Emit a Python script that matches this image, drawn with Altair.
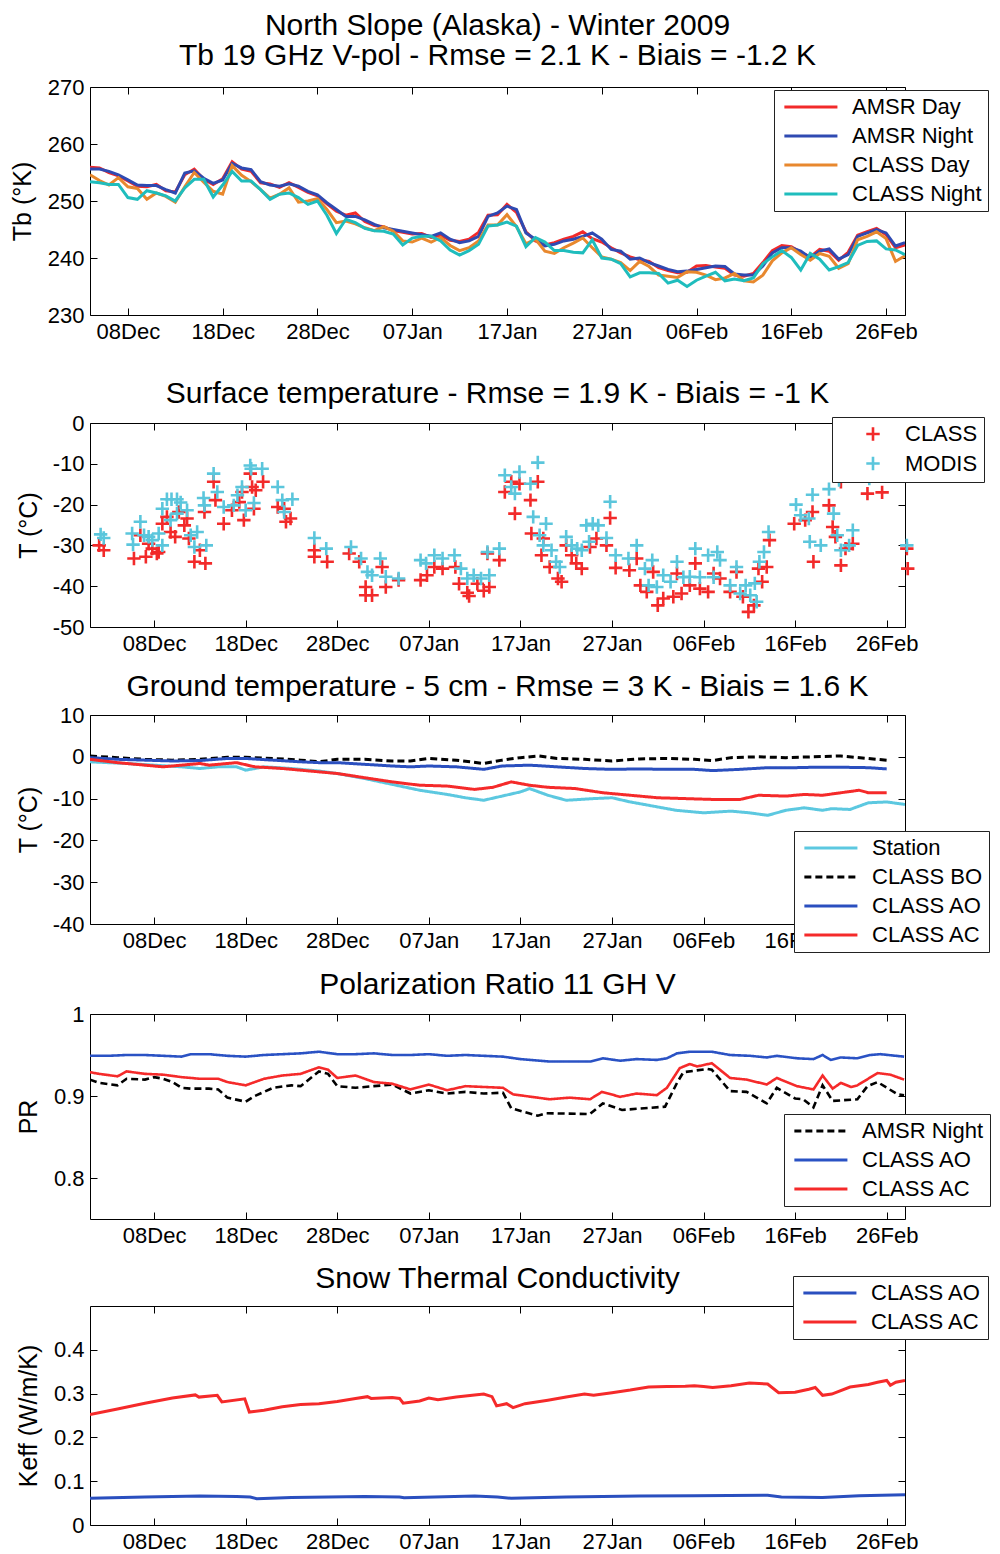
import altair as alt
import pandas as pd

FONT = "Liberation Sans"
W = 815
H1, H2, H3, H4, H5 = 228, 204, 209, 205, 219
START = pd.Timestamp("2008-12-01")


def iso(days):
    return [(START + pd.Timedelta(days=float(d))).strftime("%Y-%m-%dT%H:%M:%S") for d in days]


# ---------------- Panel 1 : Tb 19 GHz V-pol (daily, 04 Dec -> 28 Feb) ----------------
p1_days = list(range(3, 90))
amsr_day = [255.9, 255.8, 255.0, 254.4, 253.5, 252.6, 252.5, 252.9, 251.8, 251.6, 254.6, 255.6, 253.8, 252.9,
            253.9, 256.9, 255.6, 255.2, 253.2, 253.0, 252.4, 253.2, 252.4, 251.5, 250.9, 249.5, 248.2, 247.5,
            247.9, 246.4, 245.7, 245.5, 244.8, 244.5, 244.2, 244.3, 243.6, 244.0, 243.1, 242.9, 243.3, 244.5,
            247.5, 247.6, 249.4, 248.0, 244.6, 243.0, 242.3, 242.7, 243.3, 243.8, 244.6, 243.4, 242.8, 241.8,
            240.9, 240.2, 239.7,
            239.4, 238.3, 237.8, 237.4, 237.5, 238.6, 238.7, 238.4, 238.2, 237.0, 236.8, 237.3, 239.2, 241.3,
            242.2, 242.0, 241.0, 240.2, 241.5, 241.2, 239.6, 241.0, 244.0, 244.6, 245.2, 244.1, 241.8, 242.3]
amsr_night = [255.6, 255.6, 255.2, 254.6, 253.7, 252.8, 252.7, 252.7, 252.0, 251.4, 254.9, 255.3, 254.0, 253.1,
              253.7, 256.6, 255.8, 255.5, 253.4, 252.8, 252.6, 253.0, 252.6, 251.7, 251.1, 249.7, 248.5, 247.3,
              247.3, 246.7, 245.9, 245.3, 245.0, 244.7, 244.4, 244.1, 243.8, 244.4, 243.3, 242.7, 243.0, 243.8,
              247.3, 247.9, 249.1, 248.5, 244.4, 243.3, 242.1, 242.4, 243.0, 243.3, 243.8, 244.4, 243.3, 241.5,
              241.2, 239.8, 240.0,
              239.2, 238.6, 238.0, 237.6, 237.7, 238.0, 238.3, 238.6, 238.5, 237.2, 237.0, 237.0, 238.6, 240.9,
              241.8, 241.8, 241.2, 240.0, 241.2, 241.6, 239.8, 240.6, 243.8, 244.4, 245.0, 244.4, 242.1, 242.7]
class_day = [254.6, 253.6, 252.8, 254.1, 252.5, 252.2, 250.3, 251.4, 250.8, 249.8, 252.5, 255.0, 253.3, 251.7,
             251.2, 256.2, 254.5, 253.4, 252.0, 250.5, 251.2, 252.3, 249.8, 250.0, 250.4, 248.5, 246.2, 246.5,
             246.0, 245.3, 244.8, 245.5, 244.7, 243.0, 242.8, 243.5, 242.8, 243.6, 242.2, 241.3, 241.8, 243.0,
             245.8, 245.8, 247.6, 245.5, 242.5, 243.3, 241.2, 240.8, 241.8, 242.6, 243.5, 241.8, 240.2, 239.8,
             239.2, 237.8, 239.4,
             238.5, 237.0, 236.8, 236.6, 237.6, 237.5, 237.0, 236.2, 236.5, 237.3, 236.0, 235.8, 237.0, 239.5,
             240.9, 241.8, 240.6, 239.6, 240.8, 240.3, 238.2, 239.0, 243.2, 243.8, 244.6, 243.4, 239.4, 240.4]
class_night = [253.4, 253.2, 252.9, 252.9, 250.6, 250.3, 251.8, 251.4, 250.9, 250.0, 252.3, 253.8, 253.8, 250.7,
               252.8, 255.2, 253.5, 253.5, 252.0, 250.3, 251.2, 251.4, 250.6, 249.4, 250.0, 247.5, 244.3, 246.8,
               246.2, 245.2, 244.8, 244.7, 244.2, 242.3, 243.5, 243.8, 243.8, 243.0, 241.4, 240.5, 241.3, 242.4,
               245.6, 245.8, 246.3, 245.6, 242.0, 243.6, 242.8, 241.3, 241.3, 241.0, 240.9, 243.2, 240.0, 239.8,
               239.0, 236.7, 237.4,
               237.4, 237.3, 235.6, 236.1, 235.0, 236.1, 236.8, 237.5, 236.0, 236.3, 236.0, 236.5, 239.0, 240.2,
               241.3, 240.1, 237.9, 240.8, 239.8, 237.9, 238.5, 239.2, 242.2, 242.9, 243.0, 241.6, 241.4, 240.6]
p1_series = ["AMSR Day", "AMSR Night", "CLASS Day", "CLASS Night"]
p1_colors = ["#f22a2a", "#2f4ab2", "#e8882e", "#1fbdbd"]

# ---------------- Panel 2 : surface temperature (scatter) ----------------
ts_class_day = [1, 1.5, 4.8, 6.1, 5.5, 6.4, 6.8, 7.5, 7.3, 7.9, 8.4, 8.8, 9.3, 9.7, 10.3, 10.6, 10.8, 11.4, 12, 12.6,
                12.5, 13.5, 13.7, 14.6, 15.5, 16.3, 16.6, 16.8, 17.5, 17.7, 17.9, 18.1, 18.9, 20.5, 21.2, 21.4, 21.9,
                24.5, 24.5, 25.9, 28.3, 29.4, 30.1, 30.1, 30.8, 31.9, 32.3, 33.7, 36.1, 36.8, 37.6, 38.5, 39.9, 40.3,
                41.2, 41.4, 42.3, 43, 43.4, 43.6, 44.7, 45.3, 46, 46.4, 46.9, 48.1, 48.9, 48.2, 49.5, 49.3, 50.2, 51.1,
                51.5, 52, 52.6, 53.1, 53.7, 54.6, 55.3, 56.4, 56.8, 57.4, 58.9, 59.7, 60.1, 60.8, 61.5, 62, 62.6,
                63.7, 64.6, 64.1, 65.5, 66.1, 66.6, 67.5, 68.1, 68.8, 69.9, 70.6, 71.3, 71.9, 72.5, 73, 73.4, 73.9,
                74.2, 76.9, 78.1, 78.9, 79, 80.7, 81.1, 81.4, 82, 83.3, 82.5, 84.9, 82, 86.5, 89.3, 89.2]
ts_class_val = [-30, -31.2, -33.2, -32.8, -27.5, -29.6, -30.8, -31.6, -32, -24.7, -23, -26.7, -27.9, -21.8, -25.1,
                -23.4, -28.3, -34, -31.2, -34.4, -21.8, -14.4, -18.9, -24.7, -21.4, -19.4, -16.9, -23.8, -12.4,
                -15.7, -21, -16.5, -14.4, -20.6, -21, -24.2, -23.4, -31.2, -32.8, -34, -32, -34, -40.2, -42.2,
                -42.2, -35.3, -40.2, -38.5, -38.5, -37.3, -35.3, -35.7, -35.3, -39.4, -41.6, -42.4, -39.4, -41.1,
                -32, -40.2, -33.6, -16.9, -14.4, -22.2, -14.9, -18.9, -14.4, -27.1, -28.3, -32.4, -35.3, -38.1,
                -38.9, -30, -32.4, -34.4, -35.7, -30.4, -28.3, -30, -23.3, -35.5, -36.1, -33.2, -39.8, -41.4,
                -36.5, -44.7, -43, -42.6, -41.8, -36.9, -39.8, -34.4, -40.6, -41.4, -36.9, -38.1, -41.4, -36.5,
                -42.6, -46.3, -44.7, -35.7, -38.9, -35.3, -28.7, -24.7, -23.8, -21.8, -34, -20.2, -25.5, -27.9,
                -34.9, -29.6, -30.8, -17.3, -14.4, -17.0, -35.7, -30.8]
ts_modis_day = [1.16, 1.5, 4.6, 5.5, 4.7, 5.9, 6.4, 6.8, 7.5, 7.9, 7.9, 8.4, 8.9, 9.5, 9.9, 8.8, 9.5, 10.6, 11, 11.7,
                11.4, 12.7, 12.4, 12.5, 13.5, 13.9, 14.6, 15.7, 16.1, 16.6, 17, 17.5, 17.6, 17.9, 18.8, 20.5, 21,
                21.2, 22.1, 24.5, 25.8, 28.5, 29.6, 30.3, 30.8, 31.7, 32.3, 33.7, 36.1, 36.7, 37.6, 38.5, 39.8, 40.5,
                41.2, 41.9, 42.7, 43.4, 43.6, 44.7, 45.3, 46, 46.4, 46.9, 48.1, 48.9, 48.4, 49.8, 49.1, 49.5, 50.4,
                50.9, 51.3, 52, 52.6, 53.2, 53.7, 54.2, 54.9, 55.5, 54.5, 56.4, 56.8, 57.4, 58.8, 59.7, 60.6, 61.4,
                61, 61.9, 62.6, 63.4, 64.1, 64.8, 65.5, 66.1, 66.6, 67.5, 68.1, 68.5, 68.8, 69.9, 70.6, 71, 71.6,
                72.1, 72.6, 72.8, 73.1, 73.6, 74.1, 77.1, 77.6, 78.5, 78.9, 78.6, 79.8, 80.7, 81.2, 81.6, 82, 83.3,
                82.9, 81.8, 85.1, 89.2]
ts_modis_val = [-27.3, -28.2, -27.1, -24.2, -29.8, -27.5, -27.9, -28.7, -27.1, -30, -21, -18.7, -18.7, -18.7, -19.5,
                -23.8, -22.2, -21.4, -27.5, -26.7, -30.4, -30, -18.4, -20.2, -12.4, -16.9, -20.6, -20.2, -17.7,
                -15.7, -21.4, -10.4, -11.2, -19.6, -11.2, -15.7, -18.9, -21.8, -18.7, -28.2, -30.8, -30.4, -33.2,
                -36.5, -37.3, -33.2, -37.7, -38.1, -33.6, -34.4, -32.4, -33.2, -32.4, -35.7, -38.1, -37.3, -38.1,
                -31.6, -37.3, -30.8, -12.8, -15.7, -17.3, -12, -14.9, -9.7, -23, -24.7, -27.5, -30, -31.2, -34,
                -35.3, -27.9, -30, -30.8, -31.2, -25.1, -24.7, -25.1, -29.1, -28.2, -19.3, -32.4, -33.2, -30,
                -35.7, -33.6, -39.8, -40.2, -37.3, -38.9, -34, -37.8, -37.7, -30.8, -37.8, -32.4, -37.8, -31.6,
                -33.6, -39.8, -35.3, -41.8, -39.8, -42.2, -39.3, -43.8, -34, -31.6, -26.7, -20, -22.6, -23.4, -17.6,
                -29.1, -30, -16.2, -22.2, -27.5, -31.2, -26.3, -30, -14, -13.6, -30]

# ---------------- Panel 3 : ground temperature 5 cm ----------------
station_day = [0, 4, 7, 10, 12, 14, 16, 17, 19, 22, 25, 27, 30, 33, 36, 39, 41, 43, 45, 47, 48, 50, 52, 55, 57, 59,
               62, 64, 67, 70, 72, 74, 76, 78, 80, 81, 83, 85, 87, 89]
station_val = [-1.2, -1.6, -2.0, -2.4, -2.8, -2.4, -2.4, -3.2, -2.4, -2.8, -3.4, -4.0, -5.2, -6.6, -8.0, -9.0, -9.8,
               -10.4, -9.4, -8.4, -7.6, -9.2, -10.4, -10.0, -9.8, -10.8, -12.0, -12.8, -13.4, -13.0, -13.4, -14.0,
               -12.8, -12.2, -12.8, -12.4, -12.6, -11.0, -10.8, -11.4]
bo_day = [0, 3, 6, 9, 12, 15, 17, 20, 23, 25, 27, 30, 33, 35, 37, 40, 43, 45, 47, 49, 51, 54, 57, 60, 63, 66, 68, 70,
          73, 76, 79, 82, 85, 87]
bo_val = [0.2, -0.2, -0.6, -0.8, -0.6, -0.1, -0.1, -0.4, -0.8, -1.2, -0.6, -0.6, -1.0, -1.0, -0.4, -0.8, -1.6, -0.8,
          -0.2, 0.2, -0.4, -0.6, -1.0, -0.5, -0.4, -0.6, -0.9, -0.2, 0.0, -0.2, 0.0, 0.2, -0.4, -0.8]
ao_day = [0, 3, 6, 9, 12, 15, 17, 20, 23, 25, 27, 30, 33, 35, 37, 40, 43, 45, 48, 51, 54, 57, 60, 63, 66, 68, 71, 74,
          77, 79, 82, 85, 87]
ao_val = [-0.2, -0.6, -0.8, -1.0, -0.9, -0.4, -0.4, -0.8, -1.2, -1.4, -1.4, -1.8, -2.2, -2.4, -2.2, -2.4, -3.0, -2.2,
          -2.0, -2.4, -2.8, -3.0, -2.9, -3.0, -3.0, -3.3, -3.0, -2.6, -2.6, -2.5, -2.5, -2.6, -2.9]
ac_day = [0, 3, 6, 8, 10, 12, 13, 15, 16, 18, 21, 24, 27, 30, 33, 36, 39, 42, 44, 46, 48, 50, 53, 56, 59, 62, 65, 68,
          71, 73, 76, 78, 80, 82, 84, 85, 87]
ac_val = [-0.6, -1.4, -2.0, -2.4, -2.0, -1.6, -2.0, -1.6, -1.4, -2.4, -2.8, -3.4, -4.0, -5.0, -6.0, -6.8, -7.0, -7.8,
          -7.3, -6.0, -6.8, -7.3, -7.6, -8.6, -9.2, -9.8, -10.0, -10.2, -10.2, -9.2, -9.4, -9.0, -9.2, -8.6, -8.0,
          -8.6, -8.6]

# ---------------- Panel 4 : polarization ratio ----------------
pr_night_day = [0, 1, 3, 4, 6, 7, 8, 9, 10, 11, 13, 14, 15, 17, 18, 20, 22, 23, 25, 26, 27, 29, 31, 33, 35, 37, 39,
                41, 43, 45.1, 46, 48.9, 49.8, 54.6, 56, 58.1, 62.8, 64.1, 64.8, 67.4, 67.9, 69.9, 71.7, 73.9, 75, 77,
                77.9, 79, 80, 81.1, 83.8, 84.9, 86, 88.2, 88.9]
pr_night_val = [0.92, 0.916, 0.913, 0.921, 0.92, 0.923, 0.921, 0.917, 0.91, 0.909, 0.909, 0.908, 0.898, 0.893, 0.9,
                0.91, 0.913, 0.912, 0.93, 0.927, 0.912, 0.91, 0.912, 0.914, 0.903, 0.907, 0.903, 0.905, 0.903, 0.904,
                0.885, 0.876, 0.879, 0.878, 0.891, 0.883, 0.887, 0.916, 0.929, 0.933, 0.932, 0.906, 0.905, 0.891,
                0.91, 0.897, 0.896, 0.886, 0.913, 0.894, 0.896, 0.912, 0.917, 0.902, 0.901]
pr_ao_day = [0, 2, 4, 6, 8, 10, 11, 13, 15, 17, 19, 21, 23, 25, 27, 29, 31, 33, 35, 37, 39, 41, 43, 45.1, 47, 50.2,
             54.6, 56, 57.9, 59.7, 61.9, 63, 64.1, 65.5, 67.9, 69.9, 72.1, 73.9, 75, 77.2, 79, 80, 80.9, 82, 83.8,
             85.2, 86.3, 88.9]
pr_ao_val = [0.949, 0.949, 0.95, 0.95, 0.949, 0.948, 0.951, 0.951, 0.949, 0.948, 0.95, 0.951, 0.952, 0.954, 0.951,
             0.951, 0.952, 0.95, 0.95, 0.951, 0.949, 0.95, 0.949, 0.948, 0.945, 0.942, 0.942, 0.946, 0.943, 0.945,
             0.944, 0.946, 0.952, 0.954, 0.954, 0.95, 0.949, 0.947, 0.949, 0.946, 0.945, 0.95, 0.944, 0.947, 0.946,
             0.95, 0.951, 0.948]
pr_ac_day = [0, 1, 3, 4, 6, 8, 10, 12, 14, 15, 17, 19, 21, 23, 25, 26, 27, 29, 31, 33, 35, 37, 39, 41, 43, 45.1, 46.2,
             50.2, 52.4, 54.6, 55.9, 57.9, 59.7, 61.9, 63, 64.4, 65.5, 66.3, 67.9, 69.9, 71.7, 73.9, 75, 77.2, 79, 80,
             81.1, 82, 83.1, 83.8, 86, 87.4, 88.9]
pr_ac_val = [0.929, 0.927, 0.924, 0.93, 0.927, 0.926, 0.923, 0.921, 0.921, 0.917, 0.913, 0.921, 0.925, 0.927, 0.935,
             0.932, 0.922, 0.925, 0.917, 0.915, 0.908, 0.914, 0.907, 0.912, 0.911, 0.91, 0.902, 0.896, 0.898, 0.896,
             0.905, 0.899, 0.903, 0.901, 0.91, 0.934, 0.939, 0.936, 0.94, 0.922, 0.92, 0.914, 0.922, 0.912, 0.908,
             0.925, 0.909, 0.916, 0.911, 0.913, 0.928, 0.926, 0.92]

# ---------------- Panel 5 : snow thermal conductivity ----------------
k_ac_day = [0, 3, 6, 9, 11.5, 11.9, 13.9, 14.4, 16.9, 17.4, 19, 21, 23, 25, 27, 29, 30.3, 30.7, 33, 33.8, 34.2, 36,
            37, 38, 40, 42, 43, 43.9, 44.4, 45.5, 46.2, 47.5, 50, 52, 54, 55, 57, 59, 61, 63, 65, 66, 67, 68, 70, 72,
            74, 75.2, 77, 78.5, 79.2, 80, 81, 83, 85, 86, 87, 87.4, 88, 89]
k_ac_val = [0.252, 0.265, 0.278, 0.29, 0.297, 0.292, 0.296, 0.281, 0.288, 0.258, 0.262, 0.27, 0.275, 0.277, 0.282,
            0.289, 0.293, 0.289, 0.291, 0.289, 0.278, 0.283, 0.29, 0.286, 0.292, 0.297, 0.299, 0.293, 0.272, 0.277,
            0.268, 0.277, 0.285, 0.292, 0.299, 0.296, 0.302, 0.308, 0.315, 0.316, 0.317, 0.318, 0.316, 0.314, 0.318,
            0.324, 0.322, 0.302, 0.303, 0.31, 0.314, 0.296, 0.299, 0.315, 0.321, 0.326, 0.33, 0.319, 0.326, 0.33]
k_ao_day = [0, 6, 12, 16, 17.5, 18.2, 22, 30, 33.8, 34.3, 42, 44.5, 46, 52, 60, 66, 74, 75.5, 80, 84, 89]
k_ao_val = [0.061, 0.064, 0.066, 0.065, 0.064, 0.060, 0.063, 0.065, 0.064, 0.062, 0.066, 0.064, 0.061, 0.064, 0.066,
            0.067, 0.068, 0.064, 0.063, 0.067, 0.069]

# ---------------- helpers ----------------
XT = ([alt.DateTime(year=2008, month=12, date=d) for d in (8, 18, 28)]
      + [alt.DateTime(year=2009, month=1, date=d) for d in (7, 17, 27)]
      + [alt.DateTime(year=2009, month=2, date=d) for d in (6, 16, 26)])
DOM_A = [alt.DateTime(year=2008, month=12, date=4), alt.DateTime(year=2009, month=2, date=28)]
DOM_B = [alt.DateTime(year=2008, month=12, date=1), alt.DateTime(year=2009, month=2, date=28)]
LBL = "datum.value + ''"


def X(dom, axis):
    return alt.X("date:T", scale=alt.Scale(domain=dom), axis=axis)


def Y(dom, axis):
    return alt.Y("v:Q", scale=alt.Scale(domain=dom), axis=axis)


def main_axes(H, yvals, ytitle, title_x, spacer=0):
    xkw = dict(orient="bottom", values=XT, format="%d%b", tickSize=0, domain=False, grid=False,
               labelFontSize=22, labelPadding=6, labelFlush=False, labelOverlap=False)
    if spacer:
        xkw.update(title=" ", titleFontSize=2, titlePadding=spacer)
    else:
        xkw.update(title=None)
    xa = alt.Axis(**xkw)
    ya = alt.Axis(orient="left", values=yvals, labelExpr=LBL, tickSize=0, domain=False, grid=False,
                  labelFontSize=22, labelPadding=6, title=ytitle, titleFontSize=25, titleFontWeight="normal",
                  titleX=title_x, titleY=H / 2, titleAlign="center", titleBaseline="middle", titleAngle=270)
    return xa, ya


def tick_layers(df, H, xdom, ydom, yvals):
    out = []
    for xo, yo in (("top", "right"), ("bottom", "left")):
        xa = alt.Axis(orient=xo, offset=-H, values=XT, labels=False, domain=False, grid=False,
                      tickSize=7, title=None)
        ya = alt.Axis(orient=yo, offset=-W, values=yvals, labels=False, domain=False, grid=False,
                      tickSize=7, title=None)
        out.append(alt.Chart(df).mark_point(opacity=0, size=1).encode(x=X(xdom, xa), y=Y(ydom, ya)))
    return out


def leg(x, y, symbol="M-1,0H7", size=176, sw=3, offset=None, label_offset=50, row_pad=7):
    kw = dict(title=None, orient="none", legendX=x, legendY=y, strokeColor="#222222", fillColor="white",
              padding=6, labelFontSize=22, labelFont=FONT, labelColor="black", symbolSize=size,
              symbolStrokeWidth=sw, rowPadding=row_pad, labelOffset=label_offset, labelLimit=400, cornerRadius=0)
    if symbol:
        kw["symbolType"] = symbol
    if offset is not None:
        kw["symbolOffset"] = offset
    return alt.Legend(**kw)


def long_df(pairs):
    rows = []
    for name, days, vals in pairs:
        for d, v, in zip(iso(days), vals):
            rows.append({"date": d, "v": v, "series": name})
    return pd.DataFrame(rows)


def panel(main, df, H, xdom, ydom, yvals, title, title_offset):
    return (alt.layer(main, *tick_layers(df, H, xdom, ydom, yvals))
            .resolve_axis(x="independent", y="independent")
            .properties(width=W, height=H,
                        title=alt.TitleParams(title, fontSize=30, fontWeight="normal", anchor="middle",
                                              offset=title_offset, lineHeight=30, font=FONT, color="black")))


# ---------------- panel 1 ----------------
df1 = long_df([(s, p1_days, v) for s, v in zip(p1_series, [amsr_day, amsr_night, class_day, class_night])])
xa, ya = main_axes(H1, [230, 240, 250, 260, 270], "Tb (°K)", -68, spacer=17)
m1 = alt.Chart(df1).mark_line(strokeWidth=3, clip=True).encode(
    x=X(DOM_A, xa), y=Y([230, 270], ya),
    color=alt.Color("series:N", scale=alt.Scale(domain=p1_series, range=p1_colors), legend=leg(684, 3)))
P1 = panel(m1, df1, H1, DOM_A, [230, 270], [230, 240, 250, 260, 270],
           ["North Slope (Alaska) - Winter 2009", "Tb 19 GHz V-pol - Rmse = 2.1 K - Biais = -1.2 K"], 5)

# ---------------- panel 2 ----------------
PLUS = "M-1,0L1,0M0,-1L0,1"
df2 = long_df([("CLASS", ts_class_day, ts_class_val), ("MODIS", ts_modis_day, ts_modis_val)])
xa, ya = main_axes(H2, [-50, -40, -30, -20, -10, 0], "T (°C)", -62)
leg2 = leg(742, -6, symbol=None, size=180, sw=2.6, offset=24, label_offset=21, row_pad=5.5)
m2 = alt.Chart(df2).mark_point(filled=False, strokeWidth=2.6, size=180, opacity=1).encode(
    x=X(DOM_B, xa), y=Y([-50, 0], ya),
    color=alt.Color("series:N", scale=alt.Scale(domain=["CLASS", "MODIS"], range=["#f22a2a", "#5bc6dc"]),
                    legend=leg2),
    shape=alt.Shape("series:N", scale=alt.Scale(domain=["CLASS", "MODIS"], range=[PLUS, PLUS]), legend=leg2))
P2 = panel(m2, df2, H2, DOM_B, [-50, 0], [-50, -40, -30, -20, -10, 0],
           "Surface temperature - Rmse = 1.9 K - Biais = -1 K", 3)

# ---------------- panel 3 ----------------
p3_series = ["Station", "CLASS BO", "CLASS AO", "CLASS AC"]
df3 = long_df([("Station", station_day, station_val), ("CLASS BO", bo_day, bo_val),
               ("CLASS AO", ao_day, ao_val), ("CLASS AC", ac_day, ac_val)])
xa, ya = main_axes(H3, [-40, -30, -20, -10, 0, 10], "T (°C)", -62)
leg3 = leg(704, 116)
m3 = alt.Chart(df3).mark_line(strokeWidth=3, clip=True).encode(
    x=X(DOM_B, xa), y=Y([-40, 10], ya),
    color=alt.Color("series:N", scale=alt.Scale(domain=p3_series,
                                                range=["#5cc8e0", "#000000", "#2a4fbf", "#f52a2a"]), legend=leg3),
    strokeDash=alt.StrokeDash("series:N", scale=alt.Scale(domain=p3_series,
                                                          range=[[1, 0], [7, 4], [1, 0], [1, 0]]), legend=leg3))
P3 = panel(m3, df3, H3, DOM_B, [-40, 10], [-40, -30, -20, -10, 0, 10],
           "Ground temperature - 5 cm - Rmse = 3 K - Biais = 1.6 K", 2)

# ---------------- panel 4 ----------------
p4_series = ["AMSR Night", "CLASS AO", "CLASS AC"]
df4 = long_df([("AMSR Night", pr_night_day, pr_night_val), ("CLASS AO", pr_ao_day, pr_ao_val),
               ("CLASS AC", pr_ac_day, pr_ac_val)])
xa, ya = main_axes(H4, [0.8, 0.9, 1], "PR", -62)
leg4 = leg(694, 100)
m4 = alt.Chart(df4).mark_line(strokeWidth=2.6, clip=True).encode(
    x=X(DOM_B, xa), y=Y([0.75, 1.0], ya),
    color=alt.Color("series:N", scale=alt.Scale(domain=p4_series, range=["#000000", "#2a52c4", "#f52a2a"]),
                    legend=leg4),
    strokeDash=alt.StrokeDash("series:N", scale=alt.Scale(domain=p4_series, range=[[7, 4], [1, 0], [1, 0]]),
                              legend=leg4))
P4 = panel(m4, df4, H4, DOM_B, [0.75, 1.0], [0.8, 0.9, 1], "Polarization Ratio 11 GH V", 3)

# ---------------- panel 5 ----------------
p5_series = ["CLASS AO", "CLASS AC"]
df5 = long_df([("CLASS AO", k_ao_day, k_ao_val), ("CLASS AC", k_ac_day, k_ac_val)])
xa, ya = main_axes(H5, [0, 0.1, 0.2, 0.3, 0.4], "Keff (W/m/K)", -62)
m5 = alt.Chart(df5).mark_line(strokeWidth=3, clip=True).encode(
    x=X(DOM_B, xa), y=Y([0, 0.5], ya),
    color=alt.Color("series:N", scale=alt.Scale(domain=p5_series, range=["#2a4fbf", "#f52a2a"]),
                    legend=leg(703, -30)))
P5 = panel(m5, df5, H5, DOM_B, [0, 0.5], [0, 0.1, 0.2, 0.3, 0.4], "Snow Thermal Conductivity", -18)

chart = (alt.vconcat(P1, P2, P3, P4, P5, spacing=16)
         .resolve_scale(x="independent", y="independent", color="independent",
                        strokeDash="independent", shape="independent")
         .properties(padding={"left": 1, "top": 2, "right": 0, "bottom": 0})
         .configure(font=FONT)
         .configure_view(stroke="black", strokeWidth=1)
         .configure_axis(labelColor="black", titleColor="black", labelFont=FONT, titleFont=FONT,
                         tickColor="black", tickWidth=1))

chart.save("out.html", embed_options={"renderer": "svg", "actions": False})
